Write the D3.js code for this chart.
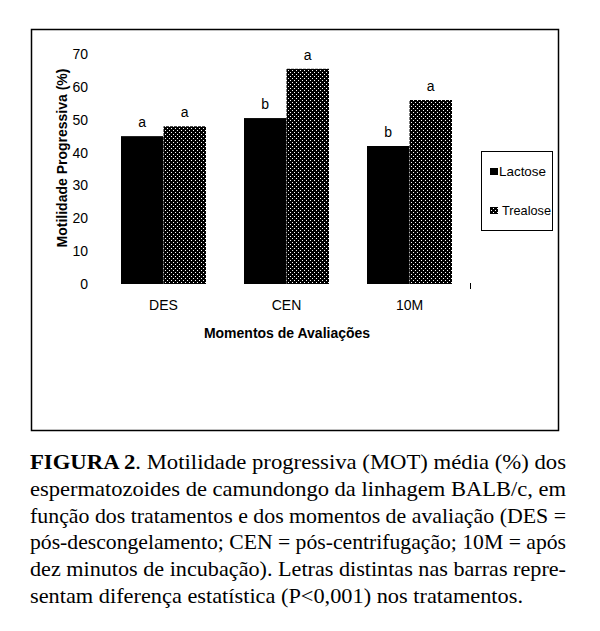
<!DOCTYPE html>
<html><head><meta charset="utf-8">
<script src="https://cdn.jsdelivr.net/npm/d3@7"></script>
<style>body{margin:0;background:#fff}svg{display:block}</style>
</head><body>
<svg id="c" width="600" height="631"></svg>
<script>
const categories = ["DES", "CEN", "10M"];
const series = ["Lactose", "Trealose"];
const lactose = [45, 50.5, 42];
const trealose = [48, 65.5, 56];
const lactoseLetters = ["a", "b", "b"];
const trealoseLetters = ["a", "a", "a"];
const yTicks = [0, 10, 20, 30, 40, 50, 60, 70];
const yTitle = "Motilidade Progressiva (%)";
const xTitle = "Momentos de Avaliações";
const captionLines = [
  [["FIGURA 2", true], [". Motilidade progressiva (MOT) média (%) dos", false]],
  [["espermatozoides de camundongo da linhagem BALB/c, em", false]],
  [["função dos tratamentos e dos momentos de avaliação (DES =", false]],
  [["pós-descongelamento; CEN = pós-centrifugação; 10M = após", false]],
  [["dez minutos de incubação). Letras distintas nas barras repre-", false]],
  [["sentam diferença estatística (P<0,001) nos tratamentos.", false]]
];

const values = [lactose, trealose];
const letters = [lactoseLetters, trealoseLetters];
const data = categories.map((c, i) => ({cat: c, vals: series.map((s, j) => ({s, v: values[j][i], l: letters[j][i]}))}));

const svg = d3.select("#c");
const sans = "Liberation Sans, Arial, sans-serif";
const fs = 14;

const defs = svg.append("defs");
const pat = defs.append("pattern").attr("id", "dots").attr("patternUnits", "userSpaceOnUse")
  .attr("width", 4).attr("height", 4);
pat.append("rect").attr("width", 4).attr("height", 4).attr("fill", "#000");
pat.append("rect").attr("x", 1).attr("y", 0).attr("width", 1).attr("height", 1).attr("fill", "#fff");
pat.append("rect").attr("x", 3).attr("y", 2).attr("width", 1).attr("height", 1).attr("fill", "#fff");

// outer frame
svg.append("rect").attr("x", 31.5).attr("y", 29.5).attr("width", 527).attr("height", 401)
  .attr("fill", "none").attr("stroke", "#000").attr("stroke-width", 1.5);

const x = d3.scaleBand().domain(categories).range([102, 471]);
const groupW = 85;
const x1 = d3.scaleBand().domain(series).range([(x.bandwidth() - groupW) / 2, (x.bandwidth() + groupW) / 2]);
const y = d3.scaleLinear().domain([0, 70]).range([284, 54]);
const fills = {Lactose: "#000", Trealose: "url(#dots)"};

// y axis labels (no line)
const yAxis = svg.append("g").attr("transform", "translate(100,0)")
  .call(d3.axisLeft(y).tickValues(yTicks).tickSize(0).tickPadding(12));
yAxis.select(".domain").remove();
yAxis.selectAll("text").attr("font-family", sans).attr("font-size", fs).attr("fill", "#000");

// x axis labels
const xAxis = svg.append("g").attr("transform", "translate(0,284)")
  .call(d3.axisBottom(x).tickSize(0).tickPadding(16));
xAxis.select(".domain").remove();
xAxis.selectAll("text").attr("font-family", sans).attr("font-size", fs).attr("fill", "#000");
// stray tick at right end of x range
svg.append("line").attr("x1", x.range()[1] - 0.5).attr("x2", x.range()[1] - 0.5)
  .attr("y1", 283).attr("y2", 289).attr("stroke", "#000").attr("stroke-width", 1);

const g = svg.append("g").selectAll("g").data(data).join("g")
  .attr("transform", d => `translate(${x(d.cat)},0)`);
g.selectAll("rect").data(d => d.vals).join("rect")
  .attr("x", d => x1(d.s)).attr("width", x1.bandwidth())
  .attr("y", d => y(d.v)).attr("height", d => y(0) - y(d.v))
  .attr("fill", d => fills[d.s]);
g.selectAll("text").data(d => d.vals).join("text")
  .attr("x", d => x1(d.s) + x1.bandwidth() / 2)
  .attr("y", d => y(d.v) - 9)
  .attr("text-anchor", "middle").attr("font-family", sans).attr("font-size", fs)
  .text(d => d.l);

// axis titles
svg.append("text").attr("transform", "translate(67,158) rotate(-90)")
  .attr("text-anchor", "middle").attr("font-family", sans).attr("font-weight", "bold")
  .attr("font-size", fs).text(yTitle);
svg.append("text").attr("x", 287).attr("y", 338)
  .attr("text-anchor", "middle").attr("font-family", sans).attr("font-weight", "bold")
  .attr("font-size", fs).text(xTitle);

// legend
const lg = svg.append("g");
lg.append("rect").attr("x", 481.5).attr("y", 151.5).attr("width", 71).attr("height", 79)
  .attr("fill", "none").attr("stroke", "#000").attr("stroke-width", 1);
series.forEach((s, i) => {
  const yy = 168 + i * 39;
  lg.append("rect").attr("x", 490).attr("y", yy).attr("width", 8).attr("height", 7).attr("fill", fills[s]);
  lg.append("text").attr("x", i === 0 ? 499 : 502).attr("y", yy + 8).attr("font-family", sans).attr("font-size", 13)
    .attr("textLength", i === 0 ? 47 : 49).attr("lengthAdjust", "spacingAndGlyphs")
    .text(s);
});

// caption
const cap = svg.append("g");
captionLines.forEach((line, i) => {
  const t = cap.append("text").attr("x", 30).attr("y", 469 + i * 26.8)
    .attr("font-family", "Liberation Serif, Times New Roman, serif").attr("font-size", 22)
    .attr("textLength", i < 5 ? 536 : 493).attr("lengthAdjust", "spacingAndGlyphs");
  line.forEach(([txt, bold]) => t.append("tspan").attr("font-weight", bold ? "bold" : "normal").text(txt));
});
</script>
</body></html>
